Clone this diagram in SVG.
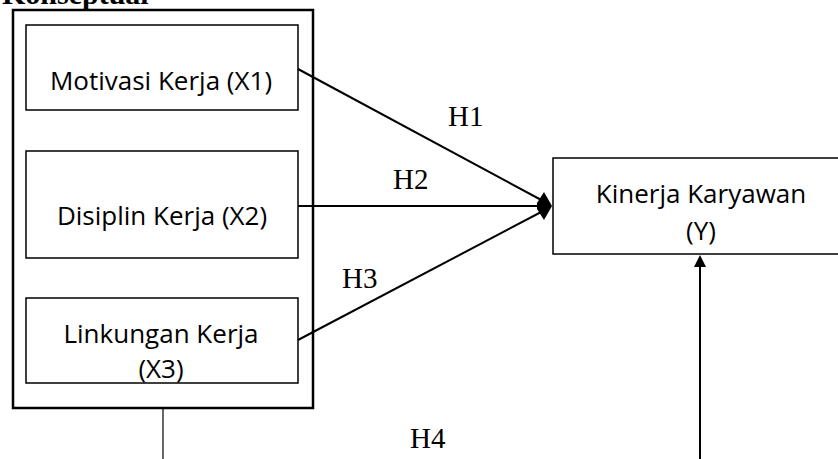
<svg xmlns="http://www.w3.org/2000/svg" width="838" height="459" viewBox="0 0 838 459">
<style>
.box{fill:#fff;stroke:#000;stroke-width:1.5}
.outer{fill:none;stroke:#000;stroke-width:2.5}
.lbl{font-family:"Open Sans","Liberation Sans",sans-serif;font-size:26px;fill:#000;text-anchor:middle}
.h{font-family:"Liberation Serif","Times New Roman",serif;font-size:29px;fill:#000}
.ln{stroke:#000;stroke-width:2;fill:none}
</style>
<rect width="838" height="459" fill="#fff"/>
<text x="2" y="4" font-family="Liberation Serif, serif" font-weight="bold" font-size="30" fill="#000">Konseptual</text>
<g id="group-x">
<rect class="outer" x="13" y="10" width="300" height="398"/>
</g>
<g id="x1">
<rect class="box" x="26" y="25" width="272" height="85"/>
<text class="lbl" x="161" y="90">Motivasi Kerja (X1)</text>
</g>
<g id="x2">
<rect class="box" x="26" y="151" width="272" height="107"/>
<text class="lbl" x="162" y="225">Disiplin Kerja (X2)</text>
</g>
<g id="x3">
<rect class="box" x="26" y="298" width="272" height="85"/>
<text class="lbl" x="161" y="343">Linkungan Kerja</text>
<text class="lbl" x="161" y="378">(X3)</text>
</g>
<g id="y">
<rect class="box" x="553" y="158" width="300" height="96"/>
<text class="lbl" x="701" y="203">Kinerja Karyawan</text>
<text class="lbl" x="701" y="240">(Y)</text>
</g>
<g id="connectors">
<line class="ln" x1="298" y1="69" x2="545" y2="202"/>
<line class="ln" x1="298" y1="206" x2="545" y2="206"/>
<line class="ln" x1="298" y1="340" x2="545" y2="210"/>
<polygon points="552,206 544,192 537,203 537,209 544,220" fill="#000"/>
<line x1="163" y1="408" x2="163" y2="459" stroke="#000" stroke-width="1.2"/>
<line class="ln" x1="700" y1="459" x2="700" y2="264"/>
<polygon points="700,255 706,267 694,267" fill="#000"/>
<text class="h" x="448" y="126">H1</text>
<text class="h" x="393" y="189">H2</text>
<text class="h" x="342" y="288">H3</text>
<text class="h" x="410" y="448">H4</text>
</g>
</svg>
